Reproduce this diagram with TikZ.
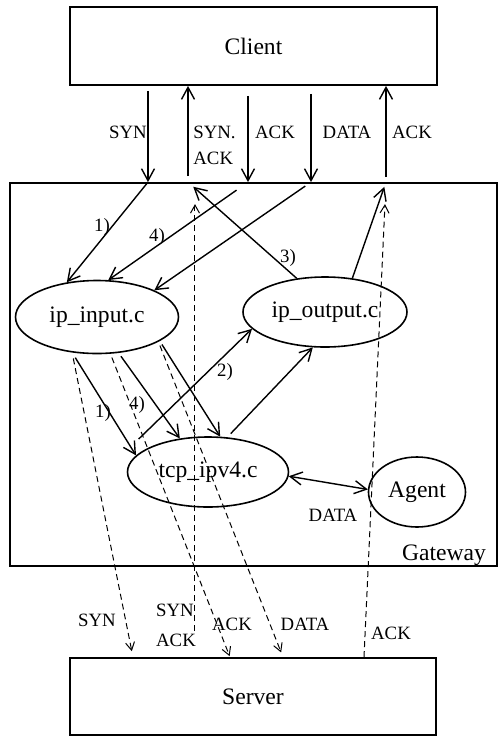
\documentclass[tikz,border=0pt]{standalone}
\usepackage{fontspec}
\setmainfont{Liberation Serif}
\usetikzlibrary{arrows.meta,shapes.geometric}

\begin{document}
\begin{tikzpicture}[x=0.5pt, y=-0.5pt,
    box/.style={draw, rectangle, line width=0.9pt, inner sep=0pt, font=\fontsize{11.8}{14}\selectfont},
    file/.style={draw, ellipse, line width=0.8pt, inner sep=0pt, font=\fontsize{11.8}{14}\selectfont},
    lbl/.style={inner sep=0pt, font=\fontsize{9.4}{13}\selectfont, align=left},
    msg/.style={-{Straight Barb[length=6pt,width=6.5pt]}, line width=0.7pt},
    pkt/.style={-{Straight Barb[length=4pt,width=4.5pt]}, densely dashed, line width=0.5pt},
    both/.style={{Straight Barb[length=6pt,width=6.5pt]}-{Straight Barb[length=6pt,width=6.5pt]}, line width=0.7pt}]

        \useasboundingbox (0,0) rectangle (498,736);

        % boxes
        \node[box, minimum width=183.5pt, minimum height=39pt] (client) at (253.5,46) {Client};
        \node[box, minimum width=243.5pt, minimum height=191.5pt] (gw) at (253.5,374.5) {};
        \node[box, minimum width=183pt, minimum height=38.5pt] (server) at (253,696.5) {Server};
        \node[box, draw=none] (gwname) at (444,555) {Gateway};

        % source files
        \node[file, minimum width=81.5pt, minimum height=36.5pt] (ipin) at (97,317) {ip\_input.c};
        \node[file, minimum width=82pt, minimum height=35pt] (ipout) at (325,312) {ip\_output.c};
        \node[file, minimum width=80.5pt, minimum height=35pt] (tcp) at (208,472) {tcp\_ipv4.c};
        \node[file, minimum width=48.5pt, minimum height=35pt] (agent) at (417,492) {Agent};

        % columns
        \coordinate (x1) at (148,0);
        \coordinate (x2) at (188,0);
        \coordinate (x3) at (248,0);
        \coordinate (x4) at (311,0);
        \coordinate (x5) at (386,0);
        \coordinate (x6) at (195,0);
        \coordinate (x7) at (364,0);
        \coordinate (x8) at (133,0);
        \coordinate (x9) at (230,0);
        \coordinate (x10) at (283,0);

        % client <-> gateway
        \draw[msg, shorten <=2.5pt] (client.south -| x1) -- (gw.north -| x1);
        \draw[msg, shorten <=3pt] (gw.north -| x2) -- (client.south -| x2);
        \draw[msg, shorten <=5pt] (client.south -| x3) -- (gw.north -| x3);
        \draw[msg, shorten <=4pt] (client.south -| x4) -- (gw.north -| x4);
        \draw[msg, shorten <=2.5pt] (gw.north -| x5) -- (client.south -| x5);

        % inside the gateway
        \draw[msg] (gw.north -| x1) -- (ipin.131);
        \draw[msg, shorten <=7pt] (gw.north -| x3) -- (ipin.73);
        \draw[msg, shorten <=3.5pt] (gw.north -| x4) -- (ipin.25);
        \draw[msg, shorten >=3.5pt] (ipout.130) -- (gw.north -| x2);
        \draw[msg, shorten >=2.5pt] (ipout.51) -- (gw.north -| x5);

        \draw[msg, shorten <=3pt] (ipin.235) -- (tcp.167);
        \draw[msg, shorten <=2pt] (ipin.-59) -- (tcp.130);
        \draw[msg, shorten <=2pt] (ipin.-21) -- (tcp.71);
        \draw[msg] ([xshift=6pt, yshift=16.5pt]tcp.west) -- (ipout.193);
        \draw[msg, shorten <=2.5pt] (tcp.61) -- (ipout.251);
        \draw[both] (tcp.-3) -- (agent.177);

        % gateway <-> server
        \draw[pkt, shorten <=3pt, shorten >=3pt] (ipin.235) -- (server.north -| x8);
        \draw[pkt, shorten <=2pt, shorten >=0.5pt] (ipin.-70) -- (server.north -| x9);
        \draw[pkt, shorten <=2pt, shorten >=2.5pt] (ipin.-22) -- (server.north -| x10);
        \draw[pkt, shorten <=13pt, shorten >=11pt] (server.north -| x6) -- (gw.north -| x6);
        \draw[pkt, shorten >=11pt] (server.north -| x7) -- (gw.north -| x5);

        % labels
        \node[lbl] (l1) at (128,132) {SYN};
        \node[lbl, anchor=west] (l2) at (193,145) {SYN.\\ACK};
        \node[lbl] (l3) at (275,132) {ACK};
        \node[lbl] (l4) at (347,132) {DATA};
        \node[lbl] (l5) at (412,132) {ACK};
        \node[lbl] (n1) at (102,227) {1)};
        \node[lbl] (n4) at (157,237) {4)};
        \node[lbl] (n3) at (288,258) {3)};
        \node[lbl] (n2) at (225,372) {2)};
        \node[lbl] (m1) at (103,413) {1)};
        \node[lbl] (m4) at (137,405) {4)};
        \node[lbl] (ldata) at (333,515) {DATA};
        \node[lbl] (b1) at (97,620) {SYN};
        \node[lbl] (b2) at (176,625) {SYN\\[2pt]ACK};
        \node[lbl] (b3) at (232,624) {ACK};
        \node[lbl] (b4) at (305,624) {DATA};
        \node[lbl] (b5) at (391,633) {ACK};

\end{tikzpicture}
\end{document}
